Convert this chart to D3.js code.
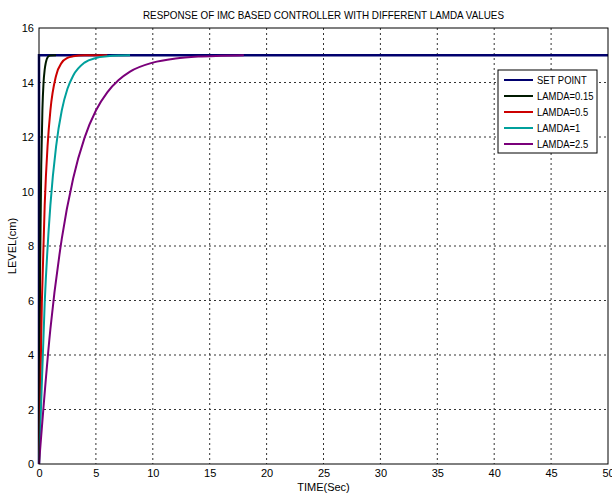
<!DOCTYPE html>
<html>
<head>
<meta charset="utf-8">
<script src="https://cdn.jsdelivr.net/npm/d3@7"></script>
<style>
body { margin:0; background:#fff; }
text { font-family: "Liberation Sans", Arial, sans-serif; fill:#000; }
</style>
</head>
<body>
<div id="chart"></div>
<script>
// values
const xTicks = [0,5,10,15,20,25,30,35,40,45,50];
const yTicks = [0,2,4,6,8,10,12,14,16];

const setT = [0, 0, 50];
const setY = [0, 15, 15];

const l015T = [0, 0.1, 0.2, 0.3, 0.4, 0.5, 0.6, 0.8, 1.0, 1.5];
const l015Y = [0, 7.3, 11.0, 13.0, 14.0, 14.47, 14.73, 14.95, 14.99, 15];

const l05T = [0, 0.25, 0.5, 0.75, 1, 1.5, 2, 2.5, 3, 4, 5, 6];
const l05Y = [0, 5.9, 9.5, 11.65, 12.97, 14.25, 14.73, 14.9, 14.96, 15, 15, 15];

const l1T = [0, 0.5, 1, 1.5, 2, 2.5, 3, 4, 5, 6, 7, 8];
const l1Y = [0, 5.9, 9.5, 11.65, 12.97, 13.77, 14.25, 14.73, 14.9, 14.96, 14.99, 15];

const l25T = [0, 1, 2, 3, 4, 5, 6, 7, 8, 10, 12, 14, 16, 18];
const l25Y = [0, 4.95, 8.26, 10.48, 11.97, 12.97, 13.64, 14.09, 14.4, 14.73, 14.88, 14.95, 14.98, 15];

const seriesNames = ["SET POINT", "LAMDA=0.15", "LAMDA=0.5", "LAMDA=1", "LAMDA=2.5"];
const seriesColors = ["#00006e", "#001a00", "#cc0000", "#00a09c", "#7a007a"];

const series = [
  {name: seriesNames[0], color: seriesColors[0], t: setT, y: setY},
  {name: seriesNames[1], color: seriesColors[1], t: l015T, y: l015Y},
  {name: seriesNames[2], color: seriesColors[2], t: l05T, y: l05Y},
  {name: seriesNames[3], color: seriesColors[3], t: l1T, y: l1Y},
  {name: seriesNames[4], color: seriesColors[4], t: l25T, y: l25Y}
];

const W = 612, H = 495;
const margin = {top:28, right:4, bottom:31, left:39};
const width = W - margin.left - margin.right,
      height = H - margin.top - margin.bottom;

const svg = d3.select("#chart").append("svg")
  .attr("width", W).attr("height", H);

const g = svg.append("g")
  .attr("transform", `translate(${margin.left},${margin.top})`);

const x = d3.scaleLinear().domain([0,50]).range([0,width]);
const y = d3.scaleLinear().domain([0,16]).range([height,0]);

// grid
g.append("g").selectAll("line")
  .data(xTicks.slice(1,-1))
  .join("line")
  .attr("x1", d=>x(d)).attr("x2", d=>x(d))
  .attr("y1", 0).attr("y2", height)
  .attr("stroke","#333").attr("stroke-width",1)
  .attr("stroke-dasharray","2,3");

g.append("g").selectAll("line")
  .data(yTicks.slice(1,-1))
  .join("line")
  .attr("y1", d=>y(d)).attr("y2", d=>y(d))
  .attr("x1", 0).attr("x2", width)
  .attr("stroke","#333").attr("stroke-width",1)
  .attr("stroke-dasharray","2,3");

// axes
const xAxis = d3.axisBottom(x).tickValues(xTicks).tickSize(0).tickPadding(5);
const yAxis = d3.axisLeft(y).tickValues(yTicks).tickSize(0).tickPadding(5);

g.append("g").attr("transform",`translate(0,${height})`).call(xAxis)
  .call(a => a.select(".domain").remove())
  .selectAll("text").style("font-size","11px").attr("font-family","Liberation Sans, Arial, sans-serif");
g.append("g").call(yAxis)
  .call(a => a.select(".domain").remove())
  .selectAll("text").style("font-size","11px").attr("font-family","Liberation Sans, Arial, sans-serif");

// lines
const line = d3.line().x(d=>x(d[0])).y(d=>y(d[1])).curve(d3.curveMonotoneX);
const stepLine = d3.line().x(d=>x(d[0])).y(d=>y(d[1]));

series.forEach((s,i) => {
  const pts = s.t.map((t,j)=>[t, s.y[j]]);
  g.append("path")
    .attr("d", i==0 ? stepLine(pts) : line(pts))
    .attr("fill","none")
    .attr("stroke", s.color)
    .attr("stroke-width", i==0 ? 2.5 : 2);
});

// frame
g.append("rect").attr("width",width).attr("height",height)
  .attr("fill","none").attr("stroke","#000").attr("stroke-width",1);

// legend
const lg = svg.append("g").attr("transform","translate(498,70)");
lg.append("rect").attr("width",99).attr("height",83)
  .attr("fill","#fff").attr("stroke","#000").attr("stroke-width",1);
series.forEach((s,i) => {
  const yy = 10 + i*16;
  lg.append("line").attr("x1",6).attr("x2",35).attr("y1",yy).attr("y2",yy)
    .attr("stroke",s.color).attr("stroke-width",2);
  lg.append("text")
    .attr("transform",`translate(39,${yy+4}) scale(0.86,1)`)
    .style("font-size","11px").text(s.name);
});

// titles
svg.append("text").attr("x", margin.left + width/2).attr("y",19)
  .attr("text-anchor","middle").style("font-size","11px")
  .attr("textLength",361).attr("lengthAdjust","spacingAndGlyphs")
  .text("RESPONSE OF IMC BASED CONTROLLER WITH DIFFERENT LAMDA VALUES");

svg.append("text").attr("x", margin.left + width/2).attr("y",491)
  .attr("text-anchor","middle").style("font-size","11px")
  .text("TIME(Sec)");

svg.append("text")
  .attr("transform",`translate(16,${margin.top + height/2}) rotate(-90)`)
  .attr("text-anchor","middle").style("font-size","11px")
  .text("LEVEL(cm)");
</script>
</body>
</html>
